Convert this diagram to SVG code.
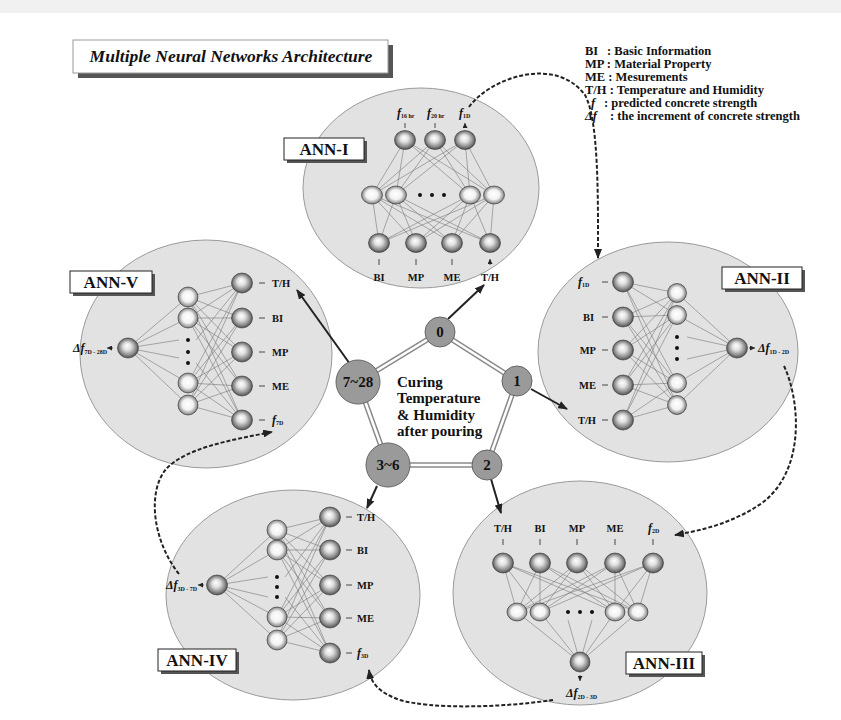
<svg xmlns="http://www.w3.org/2000/svg" width="841" height="720" viewBox="0 0 841 720">
<style>
.t{font-family:"Liberation Serif","Times New Roman",serif;font-weight:bold;fill:#111}
.lg{font-size:12.5px}
.lb{font-size:10.5px}
.fi{font-size:12px;font-style:italic}
.sub{font-size:6px;font-style:normal}
.big{fill:#e2e2e2;stroke:#9a9a9a;stroke-width:1}
.w{fill:none;stroke:#777;stroke-width:0.6}
.n{fill:url(#ball);stroke:#333;stroke-width:0.6}
.h{fill:url(#ball2);stroke:#333;stroke-width:0.6}
.sa{stroke:#222;stroke-width:0.8;marker-end:url(#sm)}
.box{fill:#fff;stroke:#222;stroke-width:1}
.sh{fill:#555}
.bx{font-size:17px;text-anchor:middle}
.pe{fill:none;stroke:#8a8a8a;stroke-width:5.5}
.pi{fill:none;stroke:#fff;stroke-width:2.5}
.pn{fill:#9a9a9a;stroke:#666;stroke-width:1}
.pt{font-size:15px;text-anchor:middle}
.ar{fill:none;stroke:#222;stroke-width:2;marker-end:url(#ah)}
.da{fill:none;stroke:#222;stroke-width:2;stroke-dasharray:4 2;marker-end:url(#ah)}
</style>
<defs>
<radialGradient id="ball" cx="50%" cy="50%" r="55%" fx="45%" fy="38%">
<stop offset="0" stop-color="#ffffff"/>
<stop offset="0.35" stop-color="#e0e0e0"/>
<stop offset="0.72" stop-color="#8a8a8a"/>
<stop offset="1" stop-color="#383838"/>
</radialGradient>
<radialGradient id="ball2" cx="50%" cy="50%" r="55%" fx="48%" fy="45%">
<stop offset="0" stop-color="#ffffff"/>
<stop offset="0.5" stop-color="#f2f2f2"/>
<stop offset="0.82" stop-color="#9a9a9a"/>
<stop offset="1" stop-color="#3a3a3a"/>
</radialGradient>
<marker id="ah" markerWidth="10" markerHeight="8" refX="9" refY="4" orient="auto" markerUnits="userSpaceOnUse">
<path d="M0 0L10 4L0 8z" fill="#222"/>
</marker>
<marker id="sm" markerWidth="5" markerHeight="5" refX="5" refY="2.5" orient="auto" markerUnits="userSpaceOnUse">
<path d="M0 0L5 2.5L0 5z" fill="#222"/>
</marker>
</defs>
<rect x="0" y="0" width="841" height="720" fill="#fff"/>
<rect x="0" y="0" width="841" height="13" fill="#f1f1f1"/>

<g id="title">
<rect class="sh" x="78" y="45" width="315" height="33"/>
<rect x="73" y="40" width="315" height="33" fill="#fff" stroke="#999" stroke-width="1"/>
<text class="t" x="231" y="62" font-size="17.5" font-style="italic" text-anchor="middle">Multiple Neural Networks Architecture</text>
</g>

<g id="legend" class="t lg">
<text x="585" y="55">BI<tspan x="607">: Basic Information</tspan></text>
<text x="585" y="68">MP : Material Property</text>
<text x="585" y="81">ME : Mesurements</text>
<text x="585" y="94">T/H : Temperature and Humidity</text>
<text x="591" y="107" font-style="italic">f<tspan x="604" font-style="normal">: predicted concrete strength</tspan></text>
<text x="585" y="120" font-style="italic">Δf<tspan x="610" font-style="normal">: the increment of concrete strength</tspan></text>
</g>

<g id="ann1">
<ellipse class="big" cx="421" cy="188" rx="118" ry="100"/>
<path class="w" d="M372 195L405 140M372 195L435 140M372 195L465 140M396 195L405 140M396 195L435 140M396 195L465 140M470 195L405 140M470 195L435 140M470 195L465 140M494 195L405 140M494 195L435 140M494 195L465 140M379 243L372 195M379 243L396 195M379 243L470 195M379 243L494 195M416 243L372 195M416 243L396 195M416 243L470 195M416 243L494 195M452 243L372 195M452 243L396 195M452 243L470 195M452 243L494 195M490 243L372 195M490 243L396 195M490 243L470 195M490 243L494 195"/>
<ellipse class="n" cx="405" cy="140" rx="10.5" ry="9.5"/>
<ellipse class="n" cx="435" cy="140" rx="10.5" ry="9.5"/>
<ellipse class="n" cx="465" cy="140" rx="10.5" ry="9.5"/>
<ellipse class="h" cx="372" cy="195" rx="10.5" ry="9"/>
<ellipse class="h" cx="396" cy="195" rx="10.5" ry="9"/>
<ellipse class="h" cx="470" cy="195" rx="10.5" ry="9"/>
<ellipse class="h" cx="494" cy="195" rx="10.5" ry="9"/>
<circle cx="420" cy="195" r="2" fill="#111"/><circle cx="432" cy="195" r="2" fill="#111"/><circle cx="444" cy="195" r="2" fill="#111"/>
<ellipse class="n" cx="379" cy="243" rx="10.5" ry="9.5"/>
<ellipse class="n" cx="416" cy="243" rx="10.5" ry="9.5"/>
<ellipse class="n" cx="452" cy="243" rx="10.5" ry="9.5"/>
<ellipse class="n" cx="490" cy="243" rx="10.5" ry="9.5"/>
<path class="sa" d="M405 128L405 123M435 128L435 123M465 128L465 123"/>
<path class="sa" d="M379 265L379 259M416 265L416 259M452 265L452 259M490 265L490 259"/>
<text class="t fi" x="397" y="117">f<tspan class="sub" dy="1">16 hr</tspan></text>
<text class="t fi" x="427" y="117">f<tspan class="sub" dy="1">20 hr</tspan></text>
<text class="t fi" x="459" y="117">f<tspan class="sub" dy="1">1D</tspan></text>
<g class="t lb" text-anchor="middle">
<text x="379" y="281">BI</text><text x="416" y="281">MP</text><text x="452" y="281">ME</text><text x="490" y="281">T/H</text>
</g>
<rect class="sh" x="287" y="141" width="80" height="22"/>
<rect class="box" x="284" y="138" width="80" height="22"/>
<text class="t bx" x="324" y="155">ANN-I</text>
</g>

<g id="ann2">
<ellipse class="big" cx="668" cy="352" rx="130" ry="110"/>
<path class="w" d="M623 282L677 293M623 282L677 315M623 282L677 383M623 282L677 405M623 317L677 293M623 317L677 315M623 317L677 383M623 317L677 405M623 350L677 293M623 350L677 315M623 350L677 383M623 350L677 405M623 385L677 293M623 385L677 315M623 385L677 383M623 385L677 405M623 420L677 293M623 420L677 315M623 420L677 383M623 420L677 405M677 293L737 348M677 315L737 348M677 383L737 348M677 405L737 348M687 337L737 348M687 359L737 348"/>
<ellipse class="n" cx="623" cy="282" rx="10.5" ry="10"/>
<ellipse class="n" cx="623" cy="317" rx="10.5" ry="10"/>
<ellipse class="n" cx="623" cy="350" rx="10.5" ry="10"/>
<ellipse class="n" cx="623" cy="385" rx="10.5" ry="10"/>
<ellipse class="n" cx="623" cy="420" rx="10.5" ry="10"/>
<ellipse class="h" cx="677" cy="293" rx="9.5" ry="9.5"/>
<ellipse class="h" cx="677" cy="315" rx="9.5" ry="9.5"/>
<ellipse class="h" cx="677" cy="383" rx="9.5" ry="9.5"/>
<ellipse class="h" cx="677" cy="405" rx="9.5" ry="9.5"/>
<circle cx="677" cy="337" r="2" fill="#111"/><circle cx="677" cy="348" r="2" fill="#111"/><circle cx="677" cy="359" r="2" fill="#111"/>
<ellipse class="n" cx="737" cy="348" rx="10.5" ry="10"/>
<path class="sa" d="M602 282L608 282M602 317L608 317M602 350L608 350M602 385L608 385M602 420L608 420M749 348L755 348"/>
<text class="t fi" x="578" y="286">f<tspan class="sub" dy="1">1D</tspan></text>
<g class="t lb" text-anchor="end">
<text x="594" y="321">BI</text><text x="596" y="354">MP</text><text x="596" y="389">ME</text><text x="596" y="424">T/H</text>
</g>
<text class="t fi" x="758" y="352">Δf<tspan class="sub" dy="2">1D - 2D</tspan></text>
<rect class="sh" x="725" y="270" width="80" height="22"/>
<rect class="box" x="722" y="267" width="80" height="22"/>
<text class="t bx" x="762" y="284">ANN-II</text>
</g>

<g id="ann3">
<ellipse class="big" cx="580" cy="593" rx="127" ry="112"/>
<path class="w" d="M503 563L517 612M503 563L540 612M503 563L615 612M503 563L638 612M540 563L517 612M540 563L540 612M540 563L615 612M540 563L638 612M577 563L517 612M577 563L540 612M577 563L615 612M577 563L638 612M615 563L517 612M615 563L540 612M615 563L615 612M615 563L638 612M653 563L517 612M653 563L540 612M653 563L615 612M653 563L638 612M517 612L580 662M540 612L580 662M615 612L580 662M638 612L580 662M568 620L580 662M592 620L580 662"/>
<ellipse class="n" cx="503" cy="563" rx="10.5" ry="10"/>
<ellipse class="n" cx="540" cy="563" rx="10.5" ry="10"/>
<ellipse class="n" cx="577" cy="563" rx="10.5" ry="10"/>
<ellipse class="n" cx="615" cy="563" rx="10.5" ry="10"/>
<ellipse class="n" cx="653" cy="563" rx="10.5" ry="10"/>
<ellipse class="h" cx="517" cy="612" rx="10" ry="9"/>
<ellipse class="h" cx="540" cy="612" rx="10" ry="9"/>
<ellipse class="h" cx="615" cy="612" rx="10" ry="9"/>
<ellipse class="h" cx="638" cy="612" rx="10" ry="9"/>
<circle cx="568" cy="612" r="2" fill="#111"/><circle cx="580" cy="612" r="2" fill="#111"/><circle cx="592" cy="612" r="2" fill="#111"/>
<ellipse class="n" cx="580" cy="662" rx="10" ry="10"/>
<path class="sa" d="M503 539L503 545M540 539L540 545M577 539L577 545M615 539L615 545M653 539L653 545M580 675L580 681"/>
<g class="t lb" text-anchor="middle">
<text x="503" y="532">T/H</text><text x="540" y="532">BI</text><text x="577" y="532">MP</text><text x="615" y="532">ME</text>
</g>
<text class="t fi" x="648" y="532">f<tspan class="sub" dy="1">2D</tspan></text>
<text class="t fi" x="566" y="697">Δf<tspan class="sub" dy="2">2D - 3D</tspan></text>
<rect class="sh" x="629" y="655" width="76" height="22"/>
<rect class="box" x="626" y="652" width="76" height="22"/>
<text class="t bx" x="664" y="669">ANN-III</text>
</g>

<g id="ann4">
<ellipse class="big" cx="293" cy="595" rx="127" ry="105"/>
<path class="w" d="M217 585L277 530M217 585L277 550M217 585L277 617M217 585L277 640M217 585L268 577M217 585L268 597M277 530L330 517M277 530L330 550M277 530L330 585M277 530L330 618M277 530L330 653M277 550L330 517M277 550L330 550M277 550L330 585M277 550L330 618M277 550L330 653M277 617L330 517M277 617L330 550M277 617L330 585M277 617L330 618M277 617L330 653M277 640L330 517M277 640L330 550M277 640L330 585M277 640L330 618M277 640L330 653M285 577L330 517M285 597L330 653"/>
<ellipse class="n" cx="217" cy="585" rx="10.5" ry="10"/>
<ellipse class="h" cx="277" cy="530" rx="10" ry="10"/>
<ellipse class="h" cx="277" cy="550" rx="10" ry="10"/>
<ellipse class="h" cx="277" cy="617" rx="10" ry="10"/>
<ellipse class="h" cx="277" cy="640" rx="10" ry="10"/>
<circle cx="277" cy="577" r="2" fill="#111"/><circle cx="277" cy="587" r="2" fill="#111"/><circle cx="277" cy="597" r="2" fill="#111"/>
<ellipse class="n" cx="330" cy="517" rx="10.5" ry="10"/>
<ellipse class="n" cx="330" cy="550" rx="10.5" ry="10"/>
<ellipse class="n" cx="330" cy="585" rx="10.5" ry="10"/>
<ellipse class="n" cx="330" cy="618" rx="10.5" ry="10"/>
<ellipse class="n" cx="330" cy="653" rx="10.5" ry="10"/>
<path class="sa" d="M352 517L346 517M352 550L346 550M352 585L346 585M352 618L346 618M352 653L346 653M204 585L198 585"/>
<g class="t lb">
<text x="357" y="521">T/H</text><text x="357" y="554">BI</text><text x="357" y="589">MP</text><text x="357" y="622">ME</text>
</g>
<text class="t fi" x="357" y="657">f<tspan class="sub" dy="1">3D</tspan></text>
<text class="t fi" x="166" y="589">Δf<tspan class="sub" dy="2">3D - 7D</tspan></text>
<rect class="sh" x="161" y="652" width="78" height="22"/>
<rect class="box" x="158" y="649" width="78" height="22"/>
<text class="t bx" x="197" y="666">ANN-IV</text>
</g>

<g id="ann5">
<ellipse class="big" cx="206" cy="354" rx="126" ry="114"/>
<path class="w" d="M128 348L188 297M128 348L188 318M128 348L188 383M128 348L188 405M128 348L179 340M128 348L179 358M188 297L242 283M188 297L242 318M188 297L242 352M188 297L242 386M188 297L242 420M188 318L242 283M188 318L242 318M188 318L242 352M188 318L242 386M188 318L242 420M188 383L242 283M188 383L242 318M188 383L242 352M188 383L242 386M188 383L242 420M188 405L242 283M188 405L242 318M188 405L242 352M188 405L242 386M188 405L242 420M196 340L242 283M196 363L242 420"/>
<ellipse class="n" cx="128" cy="348" rx="10.5" ry="10"/>
<ellipse class="h" cx="188" cy="297" rx="10" ry="10"/>
<ellipse class="h" cx="188" cy="318" rx="10" ry="10"/>
<ellipse class="h" cx="188" cy="383" rx="10" ry="10"/>
<ellipse class="h" cx="188" cy="405" rx="10" ry="10"/>
<circle cx="188" cy="340" r="2" fill="#111"/><circle cx="188" cy="352" r="2" fill="#111"/><circle cx="188" cy="363" r="2" fill="#111"/>
<ellipse class="n" cx="242" cy="283" rx="10.5" ry="10"/>
<ellipse class="n" cx="242" cy="318" rx="10.5" ry="10"/>
<ellipse class="n" cx="242" cy="352" rx="10.5" ry="10"/>
<ellipse class="n" cx="242" cy="386" rx="10.5" ry="10"/>
<ellipse class="n" cx="242" cy="420" rx="10.5" ry="10"/>
<path class="sa" d="M265 283L259 283M265 318L259 318M265 352L259 352M265 386L259 386M265 420L259 420M113 348L107 348"/>
<g class="t lb">
<text x="272" y="287">T/H</text><text x="272" y="322">BI</text><text x="272" y="356">MP</text><text x="272" y="390">ME</text>
</g>
<text class="t fi" x="272" y="424">f<tspan class="sub" dy="1">7D</tspan></text>
<text class="t fi" x="73" y="352">Δf<tspan class="sub" dy="2">7D - 28D</tspan></text>
<rect class="sh" x="73" y="274" width="82" height="22"/>
<rect class="box" x="70" y="271" width="82" height="22"/>
<text class="t bx" x="111" y="288">ANN-V</text>
</g>

<g id="connectors">
<path class="pe" d="M440 332L517 381L487 465L388 465L358 382Z"/>
<path class="pi" d="M440 332L517 381L487 465L388 465L358 382Z"/>
<path class="ar" d="M448 319L484 285"/>
<path class="ar" d="M531 389L567 409"/>
<path class="ar" d="M491 479L501 513"/>
<path class="ar" d="M377 486L367 508"/>
<path class="ar" d="M350 364L297 290"/>
<path class="da" d="M469 107C490 78 555 55 585 95C599 120 598 200 598 258"/>
<path class="da" d="M784 366C800 400 806 470 762 503C733 523 703 530 675 535"/>
<path class="da" d="M553 700C500 708 430 709 400 700C380 693 371 684 369 670"/>
<path class="da" d="M179 574C152 540 147 490 167 468C187 448 230 440 272 432"/>
</g>

<g id="n0"><circle class="pn" cx="440" cy="332" r="15"/><text class="t pt" x="440" y="337">0</text></g>
<g id="n1"><circle class="pn" cx="517" cy="381" r="15"/><text class="t pt" x="517" y="386">1</text></g>
<g id="n2"><circle class="pn" cx="487" cy="465" r="15"/><text class="t pt" x="487" y="470">2</text></g>
<g id="n36"><circle class="pn" cx="388" cy="465" r="22"/><text class="t pt" x="388" y="470">3~6</text></g>
<g id="n728"><circle class="pn" cx="358" cy="382" r="22"/><text class="t pt" x="358" y="387">7~28</text></g>

<g id="center" class="t" font-size="15">
<text x="397" y="387">Curing</text>
<text x="397" y="403">Temperature</text>
<text x="397" y="420">&amp; Humidity</text>
<text x="397" y="436">after pouring</text>
</g>
</svg>
